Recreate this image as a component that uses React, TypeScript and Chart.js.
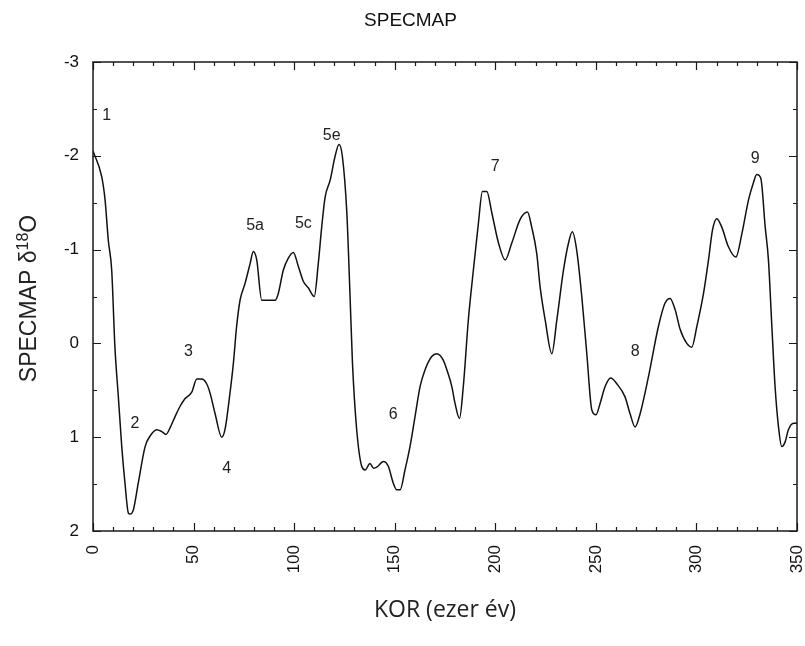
import React, { useEffect, useRef } from 'react';
import { Chart, registerables } from 'chart.js';

Chart.register(...registerables);

// Age (ka) and SPECMAP δ18O values
const ages = [
  0, 4.3, 6, 7.6, 9.3, 10.9, 12.6, 14.3, 15.9, 17.6, 18.4, 20, 22.5, 25.9, 28.3, 31.7, 34.2, 36.3,
  38.3, 40.8, 43.3, 45.7, 49.1, 51.6, 54, 56.5, 58.2, 60.7, 64, 65.6, 68.1, 69.8, 71.4, 73.1, 75.6,
  78.1, 79.7, 81.4, 83.9, 88, 90.5, 92.1, 94.6, 97.1, 99.6, 102.1, 104.6, 107.1, 110, 112, 113.7,
  115.4, 117.9, 120.3, 122.3, 124, 126.2, 127.8, 129, 131.1, 133.6, 135.3, 137.7, 139.5, 141.1,
  144.4, 146.8, 149.3, 151, 152.7, 155.1, 157.6, 160.1, 162.6, 165.1, 168.4, 170.9, 174.2, 175.9,
  178.4, 180, 182.2, 184.1, 186.6, 189.1, 191.6, 193.6, 195.8, 198.3, 201.6, 204.9, 208.2, 212.3,
  216, 218.1, 220.6, 222.3, 224.8, 228.1, 230.6, 233.9, 236.4, 238.3, 240.5, 243, 245.5, 248,
  250.1, 252.1, 254.6, 257.4, 260.4, 264.5, 267, 269.5, 272, 276.1, 281.1, 284.4, 286.9, 289.4,
  291.9, 295.2, 297.7, 300.2, 303.5, 306, 308, 310.1, 312.6, 315.9, 319.6, 322.6, 325.9, 328.3,
  330, 332, 334.2, 335.8, 337.5, 339.1, 340.8, 342.4, 344.1, 345.7, 348.3, 350,
];
const d18O = [
  -2.05, -1.78, -1.53, -1.1, -0.78, 0.04, 0.57, 1.1, 1.49, 1.81, 1.82, 1.78, 1.49, 1.1, 0.99, 0.92, 0.94, 0.97,
  0.9, 0.78, 0.67, 0.59, 0.52, 0.38, 0.38, 0.43, 0.53, 0.75, 1.0, 0.92, 0.53, 0.21, -0.18, -0.46, -0.64,
  -0.85, -0.98, -0.89, -0.46, -0.46, -0.46, -0.53, -0.78, -0.91, -0.97, -0.82, -0.66, -0.59, -0.5, -0.85, -1.24,
  -1.56, -1.74, -1.99, -2.12, -1.99, -1.39, -0.5, 0.21, 0.92, 1.31, 1.35, 1.28, 1.33, 1.32,
  1.26, 1.31, 1.49, 1.56, 1.56, 1.35, 1.1, 0.78, 0.46, 0.28, 0.14, 0.11, 0.18, 0.28,
  0.46, 0.64, 0.8, 0.46, -0.25, -0.78, -1.28, -1.62, -1.62, -1.39, -1.07, -0.89, -1.07, -1.32,
  -1.4, -1.24, -0.96, -0.6, -0.25, 0.11, -0.25, -0.78, -1.07, -1.19, -0.99, -0.5, 0.11, 0.71,
  0.76, 0.64, 0.46, 0.37, 0.43, 0.57, 0.75, 0.89, 0.75, 0.36, -0.18, -0.43, -0.48, -0.36,
  -0.15, 0.0, 0.04, -0.18, -0.53, -0.89, -1.21, -1.33, -1.24, -1.03, -0.92, -1.17, -1.53, -1.71,
  -1.8, -1.76, -1.24, -0.89, -0.18, 0.46, 0.89, 1.1, 1.05, 0.92, 0.85, 0.85,
];

// Marine isotope stage labels
const stageLabels = ['1', '2', '3', '4', '5a', '5c', '5e', '6', '7', '8', '9'];
const stageAges = [6.8, 20.9, 47.4, 66.5, 80.6, 104.6, 118.7, 149.3, 199.9, 269.5, 329.2];
const stageValues = [-2.43, 0.85, 0.09, 1.33, -1.26, -1.28, -2.22, 0.76, -1.88, 0.09, -1.97];

// Y-axis title pieces: main text, superscript, trailing text
const yTitleParts = ['SPECMAP δ', '18', 'O'];

// Axis ranges and tick steps
const xMin = 0;
const xMax = 350;
const xMajorStep = 50;
const xMinorStep = 10;
const yMin = -3;
const yMax = 2;
const yMajorStep = 1;
const yMinorStep = 0.5;

const SANS = '"Liberation Sans", Arial, sans-serif';

const framePlugin = {
  id: 'frameTicks',
  afterDraw(chart: any) {
    const { ctx, chartArea, scales } = chart;
    const { left, right, top, bottom } = chartArea;
    const x = scales.x;
    const y = scales.y;
    ctx.save();
    ctx.strokeStyle = '#1a1a1a';
    ctx.lineWidth = 1.5;
    ctx.strokeRect(left, top, right - left, bottom - top);
    ctx.lineWidth = 1.2;
    ctx.beginPath();
    for (let v = xMin; v <= xMax + 1e-9; v += xMinorStep) {
      const px = Math.round(x.getPixelForValue(v)) + 0.5;
      const len = Math.abs(v % xMajorStep) < 1e-9 ? 8 : 4;
      ctx.moveTo(px, bottom);
      ctx.lineTo(px, bottom - len);
      ctx.moveTo(px, top);
      ctx.lineTo(px, top + len);
    }
    for (let v = yMin; v <= yMax + 1e-9; v += yMinorStep) {
      const py = Math.round(y.getPixelForValue(v)) + 0.5;
      const len = Math.abs(v % yMajorStep) < 1e-9 ? 8 : 4;
      ctx.moveTo(left, py);
      ctx.lineTo(left + len, py);
      ctx.moveTo(right, py);
      ctx.lineTo(right - len, py);
    }
    ctx.stroke();

    ctx.fillStyle = '#222';
    ctx.font = `16px ${SANS}`;
    ctx.textAlign = 'center';
    ctx.textBaseline = 'middle';
    stageLabels.forEach((t, i) => {
      ctx.fillText(t, x.getPixelForValue(stageAges[i]), y.getPixelForValue(stageValues[i]));
    });

    // Y-axis title with a real superscript
    const mainFont = `23px ${SANS}`;
    const supFont = `16px ${SANS}`;
    ctx.font = mainFont;
    const w0 = ctx.measureText(yTitleParts[0]).width;
    const w2 = ctx.measureText(yTitleParts[2]).width;
    ctx.font = supFont;
    const w1 = ctx.measureText(yTitleParts[1]).width;
    const total = w0 + w1 + w2;
    ctx.translate(36, (top + bottom) / 2 + 2);
    ctx.rotate(-Math.PI / 2);
    ctx.textAlign = 'left';
    ctx.textBaseline = 'alphabetic';
    let cx = -total / 2;
    ctx.font = mainFont;
    ctx.fillText(yTitleParts[0], cx, 0);
    cx += w0;
    ctx.font = supFont;
    ctx.fillText(yTitleParts[1], cx, -8);
    cx += w1;
    ctx.font = mainFont;
    ctx.fillText(yTitleParts[2], cx, 0);
    ctx.restore();
  },
};

export default function App() {
  const ref = useRef<HTMLCanvasElement | null>(null);

  useEffect(() => {
    if (!ref.current) return;
    const chart = new Chart(ref.current, {
      type: 'line',
      data: {
        datasets: [
          {
            data: ages.map((a, i) => ({ x: a, y: d18O[i] })),
            borderColor: '#111',
            borderWidth: 1.5,
            pointRadius: 0,
            fill: false,
            cubicInterpolationMode: 'monotone',
          },
        ],
      },
      options: {
        animation: false,
        responsive: false,
        devicePixelRatio: 1,
        layout: { padding: { left: 24, right: 8, top: 0, bottom: 0 } },
        plugins: {
          legend: { display: false },
          tooltip: { enabled: false },
          title: {
            display: true,
            text: 'SPECMAP',
            color: '#111',
            font: { family: SANS, size: 19, weight: 'normal' },
            padding: { top: 9, bottom: 30.2 },
          },
        },
        scales: {
          x: {
            type: 'linear',
            min: xMin,
            max: xMax,
            grid: { display: false, drawTicks: false },
            border: { display: false },
            ticks: {
              stepSize: xMajorStep,
              minRotation: 90,
              maxRotation: 90,
              padding: 14,
              color: '#111',
              font: { family: SANS, size: 17 },
            },
            title: {
              display: true,
              text: 'KOR (ezer év)',
              color: '#222',
              font: { family: '"Open Sans", sans-serif', size: 23 },
              padding: { top: 0, bottom: 22 },
            },
            afterFit(s: any) {
              s.height = 115;
              s.paddingLeft = 0;
              s.paddingRight = 0;
            },
          },
          y: {
            type: 'linear',
            reverse: true,
            min: yMin,
            max: yMax,
            grid: { display: false, drawTicks: false },
            border: { display: false },
            ticks: {
              stepSize: yMajorStep,
              padding: 14,
              color: '#111',
              font: { family: SANS, size: 17 },
            },
            title: { display: false },
            afterFit(s: any) {
              s.width = 69;
            },
          },
        },
      } as any,
      plugins: [framePlugin],
    });
    return () => chart.destroy();
  }, []);

  return (
    <div style={{ position: 'fixed', left: 0, top: 0, width: 805, height: 646, background: '#fff' }}>
      <canvas ref={ref} width={805} height={646} style={{ width: 805, height: 646, display: 'block' }} />
    </div>
  );
}
